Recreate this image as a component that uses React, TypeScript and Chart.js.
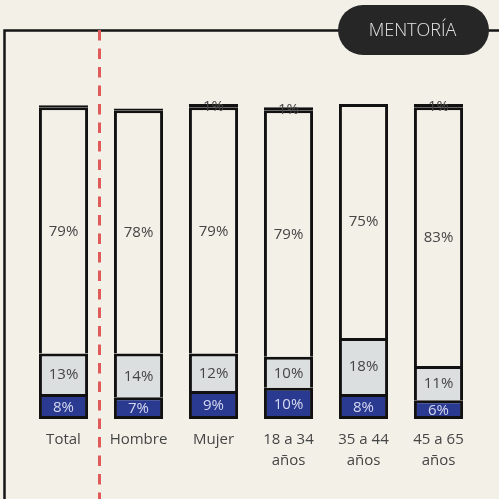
import React, { useEffect, useRef } from "react";
import { Chart, registerables } from "chart.js";

Chart.register(...registerables);

const categories: (string | string[])[] = ["Total", "Hombre", "Mujer", ["18 a 34", "años"], ["35 a 44", "años"], ["45 a 65", "años"]];
const blueValues = [8, 7, 9, 10, 8, 6];
const grayValues = [13, 14, 12, 10, 18, 11];
const whiteValues = [79, 78, 79, 79, 75, 83];
const blackValues = [0.6, 0.6, 1, 1, 0, 1];
const badgeText = "MENTORÍA";

const BG = "#f3f0e8";
const FONT = "'Open Sans', 'DejaVu Sans', sans-serif";

const framePlugin = {
  id: "frame",
  beforeDraw(chart: any) {
    const ctx = chart.ctx;
    ctx.save();
    ctx.fillStyle = BG;
    ctx.fillRect(0, 0, chart.width, chart.height);
    ctx.strokeStyle = "#151515";
    ctx.lineWidth = 2.5;
    ctx.beginPath();
    ctx.moveTo(4.5, chart.height);
    ctx.lineTo(4.5, 30.5);
    ctx.lineTo(chart.width, 30.5);
    ctx.stroke();
    ctx.strokeStyle = "#e05a5a";
    ctx.lineWidth = 3;
    ctx.setLineDash([10.5, 8]);
    ctx.beginPath();
    ctx.moveTo(99.5, 30);
    ctx.lineTo(99.5, chart.height);
    ctx.stroke();
    ctx.setLineDash([]);
    const x = 338, y = 5, w = 151, h = 50, r = 25;
    ctx.fillStyle = "#262626";
    ctx.beginPath();
    ctx.moveTo(x + r, y);
    ctx.lineTo(x + w - r, y);
    ctx.arc(x + w - r, y + r, r, -Math.PI / 2, Math.PI / 2);
    ctx.lineTo(x + r, y + h);
    ctx.arc(x + r, y + r, r, Math.PI / 2, (3 * Math.PI) / 2);
    ctx.closePath();
    ctx.fill();
    ctx.fillStyle = "#e4e4e4";
    ctx.font = `300 18px ${FONT}`;
    ctx.textAlign = "center";
    ctx.textBaseline = "middle";
    ctx.fillText(badgeText, x + w / 2 - 1, y + h / 2 + 1);
    ctx.restore();
  },
};

const labelPlugin = {
  id: "segLabels",
  afterDatasetsDraw(chart: any) {
    const ctx = chart.ctx;
    ctx.save();
    ctx.font = `15px ${FONT}`;
    ctx.textAlign = "center";
    ctx.textBaseline = "middle";
    chart.data.datasets.forEach((ds: any, di: number) => {
      const meta = chart.getDatasetMeta(di);
      meta.data.forEach((bar: any, i: number) => {
        const v = ds.data[i];
        if (v < 1) return;
        const props = bar.getProps(["x", "y", "base"], true);
        const cy = (props.y + props.base) / 2;
        ctx.fillStyle = ds.labelColor;
        ctx.fillText(Math.round(v) + "%", props.x, cy + 1);
      });
    });
    ctx.restore();
  },
};

export default function App() {
  const ref = useRef<HTMLCanvasElement>(null);
  useEffect(() => {
    if (!ref.current) return;
    const common = {
      borderColor: "#111111",
      borderWidth: 3,
      barPercentage: 0.655,
      categoryPercentage: 1,
    };
    const chart = new Chart(ref.current, {
      type: "bar",
      data: {
        labels: categories,
        datasets: [
          { ...common, label: "a", data: blueValues, backgroundColor: "#2a3a91", borderSkipped: false, labelColor: "#d5d9f0" } as any,
          { ...common, label: "b", data: grayValues, backgroundColor: "#dcdfe0", borderSkipped: "start", labelColor: "#454545" } as any,
          { ...common, label: "c", data: whiteValues, backgroundColor: BG, borderSkipped: "start", labelColor: "#454545" } as any,
          { ...common, label: "d", data: blackValues, backgroundColor: "#111111", borderSkipped: false, inflateAmount: 0, labelColor: "#454545" } as any,
        ],
      },
      options: {
        animation: false,
        responsive: false,
        maintainAspectRatio: false,
        layout: { padding: { top: 101, left: 26, right: 23, bottom: 0 } },
        plugins: { legend: { display: false }, tooltip: { enabled: false } },
        scales: {
          x: {
            stacked: true,
            grid: { display: false, drawTicks: false },
            border: { display: false },
            ticks: { color: "#454545", font: { family: FONT, size: 15, lineHeight: 1.4 }, padding: 10, maxRotation: 0, autoSkip: false },
            afterFit: (scale: any) => {
              scale.height = 80;
            },
          },
          y: { stacked: true, display: false, min: 0, max: 102 },
        },
      },
      plugins: [framePlugin, labelPlugin],
    });
    return () => chart.destroy();
  }, []);
  return (
    <div style={{ position: "fixed", left: 0, top: 0, width: 499, height: 499, background: BG }}>
      <canvas ref={ref} width={499} height={499} style={{ width: 499, height: 499, display: "block" }} />
    </div>
  );
}
